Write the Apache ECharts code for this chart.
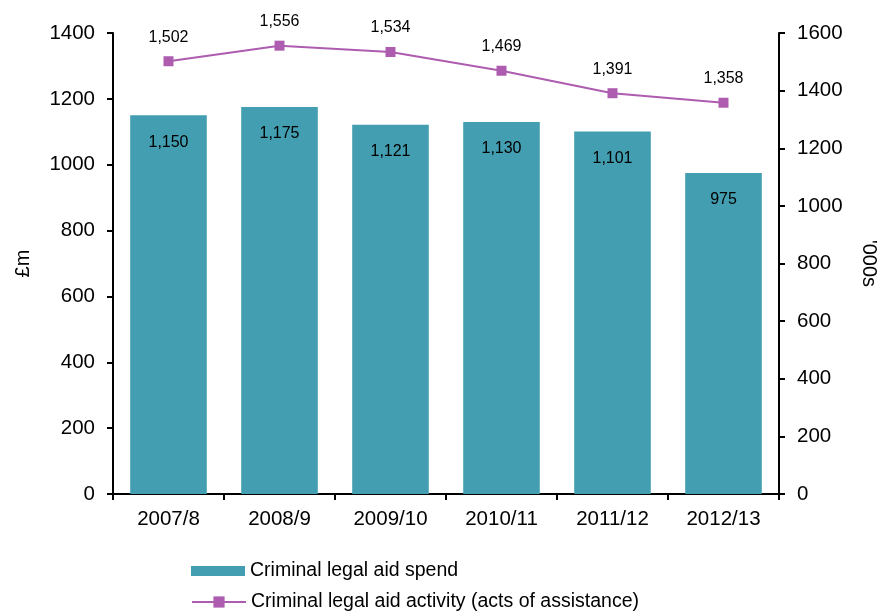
<!DOCTYPE html>
<html><head><meta charset="utf-8">
<script src="https://cdn.jsdelivr.net/npm/echarts@6/dist/echarts.min.js"></script>
<style>html,body{margin:0;padding:0;background:#fff}#c{width:881px;height:611px}</style>
</head><body><div id="c"></div>
<script>
var categories = ['2007/8','2008/9','2009/10','2010/11','2011/12','2012/13'];
var spend = [1150, 1175, 1121, 1130, 1101, 975];
var activity = [1502, 1556, 1534, 1469, 1391, 1358];
var leftTicks = {min: 0, max: 1400, interval: 200};
var rightTicks = {min: 0, max: 1600, interval: 200};

function fmt(v){ return String(v).replace(/\B(?=(\d{3})+(?!\d))/g, ','); }
function plain(v){ return String(v); }
var font = 'Liberation Sans, Arial, sans-serif';
var legendText = {fontSize: 19.5, color: '#000', fontFamily: font};
var chart = echarts.init(document.getElementById('c'));
chart.setOption({
  animation: false,
  textStyle: {fontFamily: font, color: '#000'},
  grid: {left: 113, right: 102, top: 33, bottom: 117, containLabel: false, outerBoundsMode: 'none'},
  legend: [
    {
      left: 191, top: 561, padding: 0, itemWidth: 54, itemHeight: 10,
      textStyle: legendText,
      data: [{name: 'Criminal legal aid spend', icon: 'rect'}]
    },
    {
      left: 191, top: 592, padding: 0, itemWidth: 54, itemHeight: 14,
      textStyle: legendText,
      data: [{name: 'Criminal legal aid activity (acts of assistance)'}]
    }
  ],
  xAxis: {
    type: 'category', data: categories,
    axisLine: {lineStyle: {color: '#000', width: 2}},
    axisTick: {show: true, length: 6, lineStyle: {color: '#000', width: 2}},
    axisLabel: {fontSize: 20.5, color: '#000', margin: 15}
  },
  yAxis: [
    {
      type: 'value', min: leftTicks.min, max: leftTicks.max, interval: leftTicks.interval,
      name: '£m', nameLocation: 'middle', nameGap: 80, nameRotate: 90,
      nameTextStyle: {fontSize: 20, color: '#000'},
      axisLine: {show: true, lineStyle: {color: '#000', width: 2}},
      axisTick: {show: true, length: 6, lineStyle: {color: '#000', width: 2}},
      axisLabel: {fontSize: 20.5, color: '#000', margin: 18, formatter: plain},
      splitLine: {show: false}
    },
    {
      type: 'value', min: rightTicks.min, max: rightTicks.max, interval: rightTicks.interval,
      name: "'000s", nameLocation: 'middle', nameGap: 80, nameRotate: -90,
      nameTextStyle: {fontSize: 20, color: '#000'},
      axisLine: {show: true, lineStyle: {color: '#000', width: 2}},
      axisTick: {show: true, length: 6, lineStyle: {color: '#000', width: 2}},
      axisLabel: {fontSize: 20.5, color: '#000', margin: 18, formatter: plain},
      splitLine: {show: false}
    }
  ],
  series: [
    {
      name: 'Criminal legal aid spend', type: 'bar', data: spend, yAxisIndex: 0,
      barCategoryGap: '31%',
      itemStyle: {color: '#429eb0'},
      label: {show: true, position: 'insideTop', distance: 19, fontSize: 16, color: '#000',
        formatter: function(p){ return fmt(p.value); }}
    },
    {
      name: 'Criminal legal aid activity (acts of assistance)', type: 'line', data: activity, yAxisIndex: 1,
      symbol: 'rect', symbolSize: 10,
      lineStyle: {color: '#ad5cb0', width: 2},
      itemStyle: {color: '#ad5cb0'},
      label: {show: true, position: 'top', distance: 11, fontSize: 16, color: '#000',
        formatter: function(p){ return fmt(p.value); }}
    }
  ]
});
</script></body></html>
